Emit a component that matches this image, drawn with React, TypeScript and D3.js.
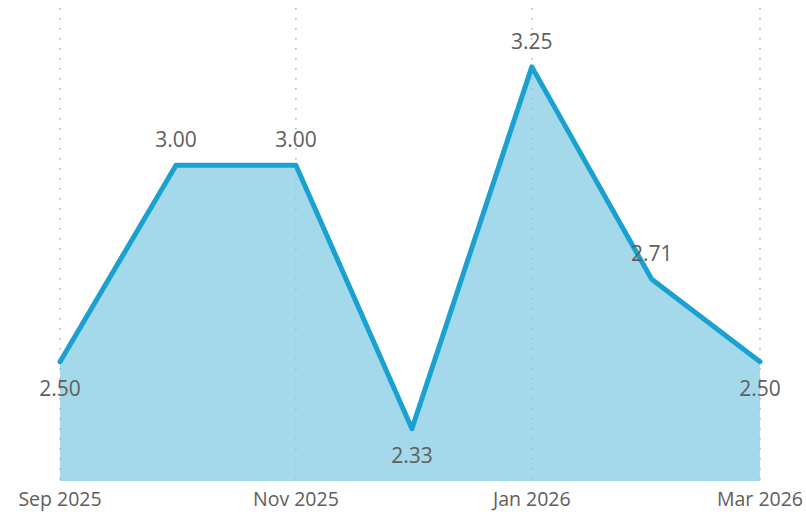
import React, { useEffect, useRef } from 'react';
import * as d3 from 'd3';

const months = ['2025-09-01', '2025-10-01', '2025-11-01', '2025-12-01', '2026-01-01', '2026-02-01', '2026-03-01'];
const values = [2.5, 3.0, 3.0, 2.33, 3.25, 2.71, 2.5];
const tickMonths = ['2025-09-01', '2025-11-01', '2026-01-01', '2026-03-01'];

const W = 806;
const H = 514;

export default function App() {
  const svgRef = useRef<SVGSVGElement>(null);

  useEffect(() => {
    document.body.style.margin = '0';
    if (!svgRef.current) return;
    const svg = d3.select(svgRef.current);
    svg.selectAll('*').remove();

    const parse = d3.utcParse('%Y-%m-%d');
    const data = months.map((m, i) => ({ date: parse(m) as Date, value: values[i] }));
    const ticks = tickMonths.map(t => parse(t) as Date);

    const x = d3.scaleUtc()
      .domain([data[0].date, data[data.length - 1].date])
      .range([60, 760]);
    const y = d3.scaleLinear()
      .domain([2.197, 3.42])
      .range([481, 0]);

    const font = '"Open Sans", "Noto Sans", sans-serif';

    // area
    const area = d3.area<{ date: Date; value: number }>()
      .x(d => x(d.date))
      .y0(481)
      .y1(d => y(d.value));
    svg.append('path')
      .datum(data)
      .attr('d', area)
      .attr('fill', '#a3d9eb');

    // dotted vertical grid
    svg.append('g')
      .selectAll('line')
      .data(ticks)
      .join('line')
      .attr('x1', d => x(d))
      .attr('x2', d => x(d))
      .attr('y1', 8)
      .attr('y2', 481)
      .attr('stroke', '#b0b6bc')
      .attr('stroke-width', 1.6)
      .attr('stroke-dasharray', '1.6,8.4');

    // line
    const line = d3.line<{ date: Date; value: number }>()
      .x(d => x(d.date))
      .y(d => y(d.value));
    svg.append('path')
      .datum(data)
      .attr('d', line)
      .attr('fill', 'none')
      .attr('stroke', '#1aa1d0')
      .attr('stroke-width', 5)
      .attr('stroke-linejoin', 'round')
      .attr('stroke-linecap', 'round');

    // data labels: below local minima, above otherwise
    svg.append('g')
      .selectAll('text')
      .data(data)
      .join('text')
      .attr('x', d => x(d.date))
      .attr('y', (d, i) => {
        const nb = [values[i - 1], values[i + 1]].filter(v => v !== undefined) as number[];
        const below = nb.every(v => v > d.value);
        return below ? y(d.value) + 34 : y(d.value) - 18;
      })
      .attr('text-anchor', 'middle')
      .style('font-family', font)
      .style('font-size', '21px')
      .style('fill', '#605e5c')
      .text(d => d.value.toFixed(2));

    // x axis labels
    const fmt = d3.utcFormat('%b %Y');
    svg.append('g')
      .selectAll('text')
      .data(ticks)
      .join('text')
      .attr('x', d => x(d))
      .attr('y', 506)
      .attr('text-anchor', 'middle')
      .style('font-family', font)
      .style('font-size', '19.5px')
      .style('fill', '#605e5c')
      .text(d => fmt(d));
  }, []);

  return (
    <div style={{ position: 'absolute', left: 0, top: 0 }}>
      <svg ref={svgRef} width={W} height={H} style={{ display: 'block', background: '#fff' }} />
    </div>
  );
}
